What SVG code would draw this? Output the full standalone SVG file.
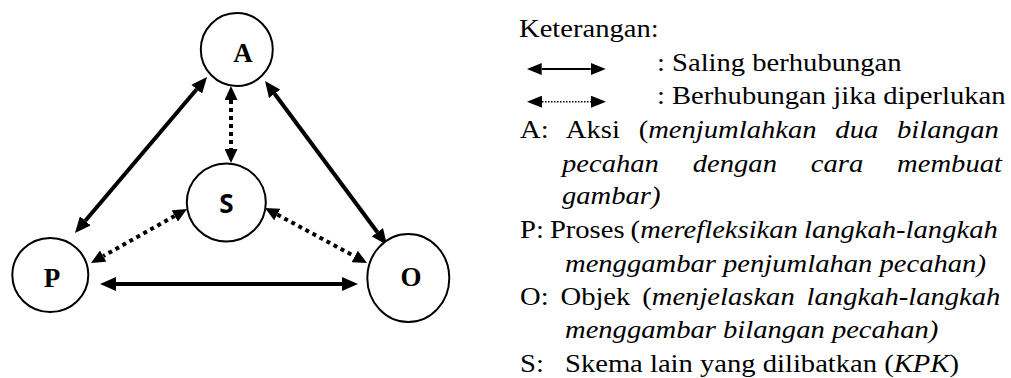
<svg xmlns="http://www.w3.org/2000/svg" width="1011" height="378" viewBox="0 0 1011 378">
  <style>
    .node { fill: #fff; stroke: #000; stroke-width: 2; }
    .lbl { font-family: "Liberation Serif", "Times New Roman", serif; font-weight: bold; font-size: 27px; text-anchor: middle; fill: #000; }
    .lbl-s { font-family: "Open Sans", "Liberation Sans", sans-serif; font-weight: bold; font-size: 26px; text-anchor: middle; fill: #000; }
    .solid { stroke: #000; stroke-width: 4; fill: none; }
    .dotted { stroke: #000; stroke-width: 4; fill: none; stroke-dasharray: 4 4; }
    .legend-solid { stroke: #000; stroke-width: 2; fill: none; }
    .legend-dotted { stroke: #000; stroke-width: 1.5; fill: none; stroke-dasharray: 1.5 1.5; }
    .txt { font-family: "Liberation Serif", "Times New Roman", serif; font-size: 26px; fill: #000; }
    .it { font-style: italic; }
  </style>
  <defs>
    <marker id="head" markerUnits="userSpaceOnUse" markerWidth="16" markerHeight="14" refX="0" refY="7" orient="auto-start-reverse">
      <path d="M0,0 L16,7 L0,14 z" fill="#000"/>
    </marker>
    <marker id="head-dot" markerUnits="userSpaceOnUse" markerWidth="14" markerHeight="13" refX="0" refY="6.5" orient="auto-start-reverse">
      <path d="M0,0 L14,6.5 L0,13 z" fill="#000"/>
    </marker>
    <marker id="head-legend" markerUnits="userSpaceOnUse" markerWidth="15" markerHeight="12" refX="0" refY="6" orient="auto-start-reverse">
      <path d="M0,0 L15,6 L0,12 z" fill="#000"/>
    </marker>
  </defs>

  <!-- connectors -->
  <g id="connectors">
    <line class="solid" x1="85.3" y1="220.8" x2="196.7" y2="89.2" marker-start="url(#head)" marker-end="url(#head)"/>
    <line class="solid" x1="274.6" y1="93.8" x2="377.4" y2="232.2" marker-start="url(#head)" marker-end="url(#head)"/>
    <line class="solid" x1="116" y1="284" x2="342" y2="284" marker-start="url(#head)" marker-end="url(#head)"/>
    <line class="dotted" x1="231" y1="100" x2="231" y2="149" marker-start="url(#head-dot)" marker-end="url(#head-dot)"/>
    <line class="dotted" x1="174.8" y1="215.9" x2="103.2" y2="256.1" marker-start="url(#head-dot)" marker-end="url(#head-dot)"/>
    <line class="dotted" x1="277.3" y1="214.6" x2="354.7" y2="256.4" marker-start="url(#head-dot)" marker-end="url(#head-dot)"/>
  </g>

  <!-- nodes -->
  <g id="node-A">
    <ellipse class="node" cx="236.8" cy="49.5" rx="36" ry="36.5"/>
    <text class="lbl" x="243" y="62">A</text>
  </g>
  <g id="node-S">
    <ellipse class="node" cx="226.3" cy="202.5" rx="39.5" ry="39"/>
    <text class="lbl-s" x="226.5" y="213">S</text>
  </g>
  <g id="node-P">
    <ellipse class="node" cx="50.3" cy="275" rx="38" ry="37"/>
    <text class="lbl" x="52" y="287">P</text>
  </g>
  <g id="node-O">
    <ellipse class="node" cx="408.3" cy="278" rx="41" ry="44"/>
    <text class="lbl" x="411" y="286">O</text>
  </g>

  <!-- legend symbols -->
  <g id="legend-keys">
    <line class="legend-solid" x1="541.7" y1="69" x2="590.7" y2="69" marker-start="url(#head-legend)" marker-end="url(#head-legend)"/>
    <line class="legend-dotted" x1="542" y1="101.7" x2="591" y2="101.7" marker-start="url(#head-legend)" marker-end="url(#head-legend)"/>
  </g>

  <!-- legend text: slightly widened Times-style lettering, justified lines via word-spacing -->
  <g id="legend-text" transform="translate(520,0) scale(1.1,1)">
    <text class="txt" x="-0.9" y="37.5">Keterangan:</text>
    <text class="txt" x="124.5" y="71">: Saling berhubungan</text>
    <text class="txt" x="124.5" y="104">: Berhubungan jika diperlukan</text>

    <text class="txt" x="0" y="138" word-spacing="10.6">A: Aksi (<tspan class="it">menjumlahkan dua bilangan</tspan></text>
    <text class="txt it" x="38.2" y="172" word-spacing="24.3">pecahan dengan cara membuat</text>
    <text class="txt it" x="38.2" y="204">gambar)</text>

    <text class="txt" x="0" y="238" word-spacing="-1">P: Proses (<tspan class="it">merefleksikan langkah-langkah</tspan></text>
    <text class="txt it" x="40.9" y="272">menggambar penjumlahan pecahan)</text>

    <text class="txt" x="0" y="305" word-spacing="4.3">O: Objek (<tspan class="it">menjelaskan langkah-langkah</tspan></text>
    <text class="txt it" x="40.9" y="338">menggambar bilangan pecahan)</text>

    <text class="txt" y="372.5"><tspan x="0">S:</tspan><tspan x="40.9">Skema lain yang dilibatkan (</tspan><tspan class="it">KPK</tspan>)</text>
  </g>
</svg>
